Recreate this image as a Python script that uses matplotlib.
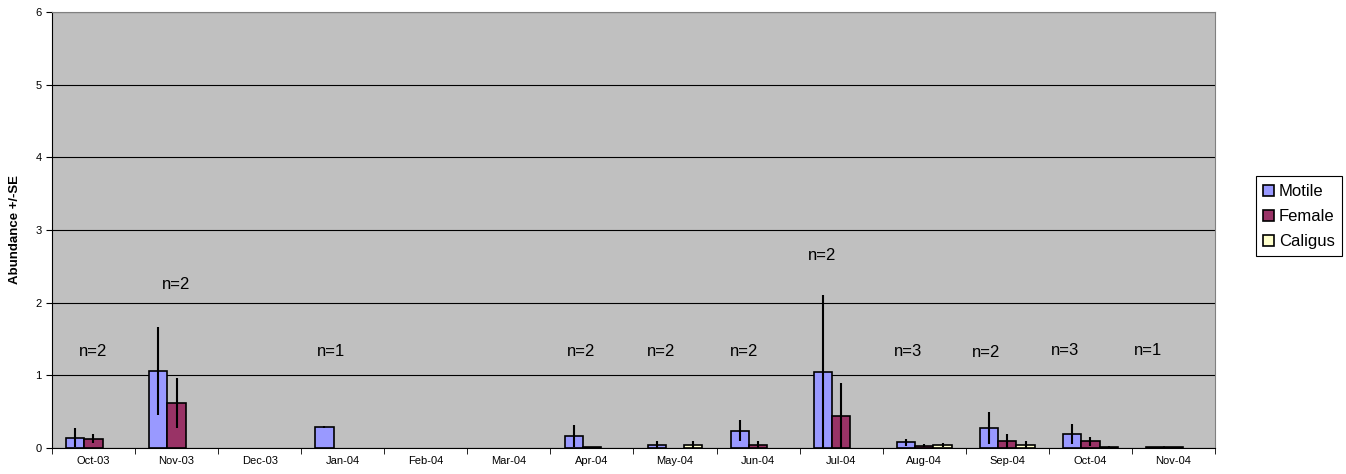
import matplotlib.pyplot as plt
import numpy as np

plt.rcParams['font.family'] = ['Liberation Sans', 'DejaVu Sans']

months = ["Oct-03", "Nov-03", "Dec-03", "Jan-04", "Feb-04", "Mar-04", "Apr-04",
          "May-04", "Jun-04", "Jul-04", "Aug-04", "Sep-04", "Oct-04", "Nov-04"]

motile = [0.14, 1.06, 0, 0.29, 0, 0, 0.17, 0.04, 0.24, 1.04, 0.08, 0.28, 0.19, 0.02]
motile_se = [0.13, 0.61, 0, 0.01, 0, 0, 0.15, 0.05, 0.15, 1.06, 0.05, 0.22, 0.14, 0]
female = [0.13, 0.62, 0, 0, 0, 0, 0.01, 0, 0.04, 0.44, 0.03, 0.09, 0.09, 0.02]
female_se = [0.06, 0.34, 0, 0, 0, 0, 0, 0, 0.05, 0.45, 0.02, 0.10, 0.06, 0]
caligus = [0, 0, 0, 0, 0, 0, 0, 0.04, 0, 0, 0.04, 0.04, 0.02, 0]
caligus_se = [0, 0, 0, 0, 0, 0, 0, 0.05, 0, 0, 0.03, 0.06, 0.01, 0]

# sample size labels: text, x position (category units), height
n_labels = ["n=2", "n=2", "n=1", "n=2", "n=2", "n=2", "n=2", "n=3", "n=2", "n=3", "n=1"]
n_x = [0.0, 1.0, 2.86, 5.87, 6.83, 7.83, 8.77, 9.81, 10.74, 11.7, 12.69]
n_y = [1.33, 2.25, 1.33, 1.33, 1.33, 1.33, 2.65, 1.33, 1.32, 1.34, 1.34]

x = np.arange(len(months))
w = 0.22

fig = plt.figure(figsize=(13.46, 4.74), dpi=100)
ax = fig.add_axes([0.0386, 0.0549, 0.8641, 0.9198])
ax.set_facecolor('#C0C0C0')

err_kw = dict(ecolor='black', elinewidth=1.5, capsize=0)
series = [(motile, motile_se, -w, '#9999FF', 'Motile'),
          (female, female_se, 0, '#993366', 'Female'),
          (caligus, caligus_se, w, '#FFFFCC', 'Caligus')]
for vals, se, off, col, lab in series:
    lw = [1.2 if v > 0 else 0 for v in vals]
    ax.bar(x + off, vals, w, yerr=se, color=col, edgecolor='black',
           linewidth=lw, label=lab, error_kw=err_kw, zorder=3)

for lab, xx, yy in zip(n_labels, n_x, n_y):
    ax.text(xx, yy, lab, ha='center', va='center', fontsize=12, zorder=4)

ax.set_xlim(-0.5, len(months) - 0.5)
ax.set_ylim(0, 6)
ax.set_yticks(range(7))
ax.yaxis.grid(True, color='black', linewidth=0.8, zorder=0)
ax.set_axisbelow(True)

ax.set_xticks(x)
ax.set_xticklabels(months, fontsize=8)
ax.set_xticks(np.arange(-0.5, len(months)), minor=True)
ax.tick_params(axis='x', which='major', length=0, pad=6)
ax.tick_params(axis='x', which='minor', length=4, direction='out')
ax.tick_params(axis='y', labelsize=8, length=4, direction='out')

for s in ['top', 'right']:
    ax.spines[s].set_color('#808080')
ax.spines['left'].set_color('black')
ax.spines['bottom'].set_color('black')

ax.set_ylabel('Abundance +/-SE', fontsize=9.5, fontweight='bold', labelpad=10)

leg = ax.legend(loc='center left', bbox_to_anchor=(1.035, 0.531), fontsize=12,
                fancybox=False, framealpha=1, edgecolor='black', handlelength=0.65,
                handleheight=0.65, handletextpad=0.3, borderpad=0.45, labelspacing=0.6,
                borderaxespad=0)
leg.get_frame().set_linewidth(0.8)
for h in leg.legend_handles:
    h.set_linewidth(1.2)

fig.savefig('out.png', dpi=100)
